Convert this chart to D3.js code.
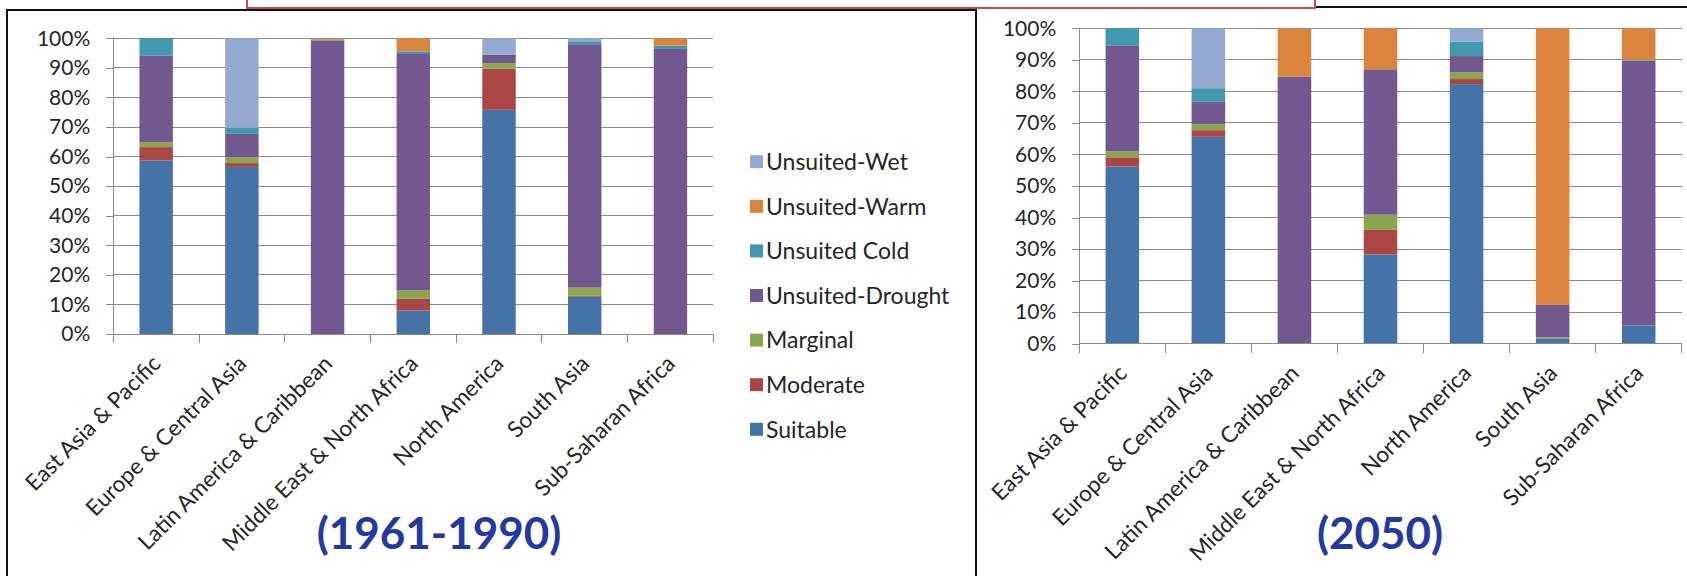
<!DOCTYPE html>
<html>
<head>
<meta charset="utf-8">
<script src="https://cdn.jsdelivr.net/npm/d3@7"></script>
<style>
  html, body { margin: 0; padding: 0; background: #fff; }
  svg { display: block; }
  text { font-family: Lato, "Open Sans", sans-serif; fill: #262626; }
</style>
</head>
<body>
<svg id="chart" width="1687" height="576"></svg>
<script>
// Regions (x categories)
const regions = [
  "East Asia & Pacific", "Europe & Central Asia", "Latin America & Caribbean",
  "Middle East & North Africa", "North America", "South Asia", "Sub-Saharan Africa"
];

// Suitability classes, bottom to top of each stack
const classes = ["Suitable", "Moderate", "Marginal", "Unsuited-Drought",
                 "Unsuited Cold", "Unsuited-Warm", "Unsuited-Wet"];
const classColors = ["#4572A7", "#AA4643", "#89A54E", "#71588F",
                     "#4198AF", "#DB843D", "#93A9CF"];

// Share of area per class (%), baseline climate 1961-1990
const suitable1990 = [58.7, 56.5, 0.0, 7.9, 75.8, 12.6, 0.0];
const moderate1990 = [4.5, 1.3, 0.0, 4.1, 13.9, 0.3, 0.0];
const marginal1990 = [1.7, 2.0, 0.0, 2.8, 1.9, 2.8, 0.0];
const drought1990  = [29.3, 7.9, 99.2, 79.9, 2.9, 82.3, 96.4];
const cold1990     = [5.8, 2.0, 0.3, 0.9, 0.0, 1.0, 1.1];
const warm1990     = [0.0, 0.0, 0.5, 4.4, 0.0, 0.0, 2.5];
const wet1990      = [0.0, 30.3, 0.0, 0.0, 5.5, 1.0, 0.0];

// Share of area per class (%), projected climate 2050
const suitable2050 = [56.2, 65.6, 0.0, 28.3, 82.3, 1.5, 5.8];
const moderate2050 = [2.9, 2.1, 0.0, 7.8, 1.6, 0.0, 0.0];
const marginal2050 = [1.9, 1.9, 0.0, 4.8, 2.1, 0.5, 0.0];
const drought2050  = [33.6, 7.2, 84.6, 46.1, 5.2, 10.3, 84.0];
const cold2050     = [5.4, 4.2, 0.0, 0.0, 4.6, 0.0, 0.2];
const warm2050     = [0.0, 0.0, 15.4, 13.0, 0.0, 87.7, 10.0];
const wet2050      = [0.0, 19.0, 0.0, 0.0, 4.2, 0.0, 0.0];

// Y tick values (fractions of 100%)
const yTicks = [0, 0.1, 0.2, 0.3, 0.4, 0.5, 0.6, 0.7, 0.8, 0.9, 1.0];

const period1990 = [suitable1990, moderate1990, marginal1990, drought1990, cold1990, warm1990, wet1990];
const period2050 = [suitable2050, moderate2050, marginal2050, drought2050, cold2050, warm2050, wet2050];

function toRows(series) {
  return regions.map((r, i) => {
    const row = { region: r };
    classes.forEach((c, k) => { row[c] = series[k][i] / 100; });
    return row;
  });
}

const svg = d3.select("#chart");
const GRID = "#8a8a8a";
const color = d3.scaleOrdinal().domain(classes).range(classColors);

// Frames around the two panels and the box cut by the top edge
svg.append("rect").attr("x", 7).attr("y", 10).attr("width", 969).attr("height", 600)
  .attr("fill", "none").attr("stroke", "#111").attr("stroke-width", 2);
svg.append("rect").attr("x", 976).attr("y", 7).attr("width", 760).attr("height", 600)
  .attr("fill", "none").attr("stroke", "#111").attr("stroke-width", 2);
svg.append("rect").attr("x", 247).attr("y", -10).attr("width", 1068).attr("height", 18)
  .attr("fill", "#fff").attr("stroke", "#c0504d").attr("stroke-width", 2);

const panels = [
  { rows: toRows(period1990), x0: 113.3, x1: 713.3, yTop: 38.3, yBot: 334,
    title: "(1961-1990)", titleX: 439, legend: true },
  { rows: toRows(period2050), x0: 1079.3, x1: 1681.7, yTop: 28.3, yBot: 343.7,
    title: "(2050)", titleX: 1380, legend: false }
];

const stack = d3.stack().keys(classes);

panels.forEach(p => {
  const g = svg.append("g");
  const x = d3.scaleBand().domain(regions).range([p.x0, p.x1])
    .paddingInner(0.61).paddingOuter(0.305);
  const y = d3.scaleLinear().domain([0, 1]).range([p.yBot, p.yTop]);

  // horizontal gridlines
  g.append("g").selectAll("line").data(yTicks.slice(1)).join("line")
    .attr("x1", p.x0).attr("x2", p.x1)
    .attr("y1", d => y(d)).attr("y2", d => y(d))
    .attr("stroke", GRID).attr("stroke-width", 1).attr("shape-rendering", "crispEdges");

  // y axis
  const yAxis = g.append("g").attr("transform", `translate(${p.x0},0)`)
    .call(d3.axisLeft(y).tickValues(yTicks).tickFormat(d3.format(".0%"))
      .tickSize(7).tickSizeOuter(0).tickPadding(16));
  yAxis.select(".domain").attr("stroke", GRID).attr("shape-rendering", "crispEdges");
  yAxis.selectAll(".tick line").attr("stroke", GRID).attr("shape-rendering", "crispEdges");
  yAxis.selectAll(".tick text").attr("font-size", 21).attr("fill", "#262626")
    .attr("font-family", "Lato, 'Open Sans', sans-serif");

  // stacked bars
  const layers = stack(p.rows);
  g.append("g").selectAll("g").data(layers).join("g")
    .attr("fill", d => color(d.key))
    .selectAll("rect").data(d => d).join("rect")
    .attr("x", d => x(d.data.region))
    .attr("width", x.bandwidth())
    .attr("y", d => y(d[1]))
    .attr("height", d => Math.max(0, y(d[0]) - y(d[1])));

  // x axis line and category separators
  g.append("line").attr("x1", p.x0).attr("x2", p.x1)
    .attr("y1", p.yBot).attr("y2", p.yBot)
    .attr("stroke", GRID).attr("shape-rendering", "crispEdges");
  const bounds = d3.range(regions.length + 1).map(i => p.x0 + i * x.step());
  g.append("g").selectAll("line").data(bounds).join("line")
    .attr("x1", d => d).attr("x2", d => d)
    .attr("y1", p.yBot).attr("y2", p.yBot + 9)
    .attr("stroke", GRID).attr("shape-rendering", "crispEdges");

  // rotated category labels
  g.append("g").selectAll("text").data(regions).join("text")
    .attr("text-anchor", "end")
    .attr("font-size", 22.5)
    .attr("transform", d => `translate(${x(d) + x.bandwidth() / 2 + 6},${p.yBot + 31}) rotate(-45)`)
    .text(d => d);

  // period title
  g.append("text").attr("x", p.titleX).attr("y", 549)
    .attr("text-anchor", "middle")
    .attr("font-size", 44).attr("font-weight", "bold")
    .style("fill", "#2437a3")
    .text(p.title);

  if (p.legend) {
    const lg = g.append("g");
    const items = classes.slice().reverse();
    const row = lg.selectAll("g").data(items).join("g")
      .attr("transform", (d, i) => `translate(750,${161.7 + i * 44.6})`);
    row.append("rect").attr("x", 0).attr("y", -6.5).attr("width", 13).attr("height", 13)
      .attr("fill", d => color(d));
    row.append("text").attr("x", 16).attr("dy", "0.36em")
      .attr("font-size", 23).text(d => d);
  }
});
</script>
</body>
</html>
